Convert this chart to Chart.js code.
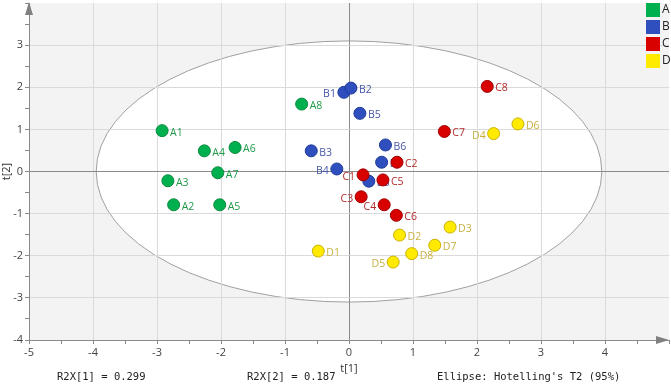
<!DOCTYPE html>
<html>
<head>
<meta charset="utf-8">
<script src="https://cdn.jsdelivr.net/npm/chart.js@4.4.1/dist/chart.umd.min.js"></script>
<style>
  html, body { margin: 0; padding: 0; background: #fff; }
  #wrap { width: 671px; height: 385px; }
</style>
</head>
<body>
<div id="wrap"><canvas id="chart"></canvas></div>
<script>
// --- data ---
const groups = ["A", "B", "C", "D"];

const namesA = ["A1", "A2", "A3", "A4", "A5", "A6", "A7", "A8"];
const xA = [-2.92, -2.74, -2.83, -2.26, -2.02, -1.78, -2.05, -0.74];
const yA = [0.97, -0.79, -0.22, 0.49, -0.79, 0.57, -0.03, 1.60];

const namesB = ["B1", "B2", "B3", "B4", "B5", "B6", "B7", "B8"];
const xB = [-0.08, 0.03, -0.59, -0.19, 0.17, 0.57, 0.51, 0.31];
const yB = [1.88, 1.98, 0.49, 0.06, 1.38, 0.63, 0.22, -0.23];

const namesC = ["C1", "C2", "C3", "C4", "C5", "C6", "C7", "C8"];
const xC = [0.22, 0.75, 0.19, 0.55, 0.53, 0.74, 1.49, 2.16];
const yC = [-0.08, 0.22, -0.60, -0.79, -0.20, -1.04, 0.95, 2.02];

const namesD = ["D1", "D2", "D3", "D4", "D5", "D6", "D7", "D8"];
const xD = [-0.48, 0.79, 1.58, 2.26, 0.69, 2.64, 1.34, 0.98];
const yD = [-1.89, -1.51, -1.32, 0.90, -2.15, 1.13, -1.75, -1.95];

// labels that sit left of their marker
const leftLabels = ["B1", "B4", "C1", "C3", "C4", "D4", "D5"];

// Hotelling's T2 (95%) ellipse semi-axes
const ellipseA = 3.95;
const ellipseB = 3.1;

const footTexts = ["R2X[1] = 0.299", "R2X[2] = 0.187", "Ellipse: Hotelling's T2 (95%)"];

const fill = ["#00b04f", "#2f4fbf", "#d90000", "#ffea00"];
const edge = ["#0a8a3c", "#1f3a9a", "#a00000", "#c9b200"];
const textCol = ["#1f9a48", "#4656a6", "#b32a2a", "#c9b040"];

const pts = (xs, ys, ns) => xs.map((x, i) => ({x, y: ys[i], name: ns[i]}));
const series = [pts(xA, yA, namesA), pts(xB, yB, namesB), pts(xC, yC, namesC), pts(xD, yD, namesD)];

// --- background: grey plot area with white ellipse ---
const ellipsePlugin = {
  id: "ellipse",
  beforeDraw(chart) {
    const area = chart.chartArea;
    if (!area) return;
    const {ctx, scales} = chart;
    const sx = scales.x, sy = scales.y;
    ctx.save();
    ctx.fillStyle = "#f3f3f3";
    ctx.fillRect(area.left, area.top, area.right - area.left, area.bottom - area.top);
    const cx = sx.getPixelForValue(0), cy = sy.getPixelForValue(0);
    const rx = sx.getPixelForValue(ellipseA) - cx;
    const ry = cy - sy.getPixelForValue(ellipseB);
    ctx.beginPath();
    ctx.ellipse(cx, cy, rx, ry, 0, 0, Math.PI * 2);
    ctx.fillStyle = "#ffffff";
    ctx.fill();
    ctx.strokeStyle = "#a0a0a0";
    ctx.lineWidth = 1;
    ctx.stroke();
    ctx.restore();
  }
};

// --- point names, drawn with each dataset so later groups cover them ---
const labelPlugin = {
  id: "names",
  afterDatasetDraw(chart, args) {
    const {ctx} = chart;
    const i = args.index;
    const ds = chart.data.datasets[i];
    ctx.save();
    ctx.font = "10.5px 'Open Sans'";
    ctx.fillStyle = textCol[i];
    ctx.textBaseline = "middle";
    args.meta.data.forEach((el, k) => {
      const name = ds.data[k].name;
      if (leftLabels.includes(name)) {
        ctx.textAlign = "right";
        ctx.fillText(name, el.x - 8, el.y + 2);
      } else {
        ctx.textAlign = "left";
        ctx.fillText(name, el.x + 8, el.y + 2);
      }
    });
    ctx.restore();
  }
};

// --- arrows, legend and footer texts ---
const decorPlugin = {
  id: "decor",
  afterDraw(chart) {
    const area = chart.chartArea;
    if (!area) return;
    const {ctx} = chart;
    ctx.save();
    ctx.fillStyle = "#808080";
    // y arrow
    ctx.beginPath();
    ctx.moveTo(area.left, area.top - 1);
    ctx.lineTo(area.left - 4, area.top + 12);
    ctx.lineTo(area.left + 4, area.top + 12);
    ctx.closePath();
    ctx.fill();
    // x arrow
    ctx.beginPath();
    ctx.moveTo(area.right, area.bottom);
    ctx.lineTo(area.right - 13, area.bottom - 4);
    ctx.lineTo(area.right - 13, area.bottom + 4);
    ctx.closePath();
    ctx.fill();

    // legend
    ctx.font = "12px 'Open Sans'";
    ctx.textBaseline = "middle";
    ctx.textAlign = "left";
    groups.forEach((g, i) => {
      const top = 3 + i * 17;
      ctx.fillStyle = fill[i];
      ctx.fillRect(646, top, 14, 14);
      ctx.fillStyle = "#222";
      ctx.fillText(g, 662, top + 7);
    });

    // footer
    ctx.font = "10.5px 'DejaVu Sans Mono'";
    ctx.fillStyle = "#222";
    ctx.textAlign = "left";
    const fx = [57, 247, 437];
    footTexts.forEach((t, i) => ctx.fillText(t, fx[i], 377));
    ctx.restore();
  }
};

const gridCol = (isInt, v, lim) => {
  if (!isInt) return "rgba(0,0,0,0)";
  if (v === 0) return "#8a8a8a";
  if (v === lim) return "rgba(0,0,0,0)";
  return "#dadada";
};

new Chart(document.getElementById("chart"), {
  type: "scatter",
  data: {
    datasets: series.map((d, i) => ({
      label: groups[i],
      data: d,
      backgroundColor: fill[i],
      borderColor: edge[i],
      borderWidth: 1,
      pointRadius: 6,
      pointHoverRadius: 6,
      order: 4 - i
    }))
  },
  options: {
    responsive: true,
    maintainAspectRatio: false,
    animation: false,
    layout: { autoPadding: false, padding: { left: 0, right: 2, top: 3, bottom: 10 } },
    plugins: { legend: { display: false }, tooltip: { enabled: false } },
    scales: {
      x: {
        type: "linear", min: -5, max: 5,
        afterFit: (s) => { s.height = 35; s.paddingLeft = 0; s.paddingRight = 0; },
        ticks: {
          stepSize: 0.5, autoSkip: false, maxRotation: 0, padding: 2,
          color: "#444", font: { family: "Open Sans", size: 11 },
          callback: (v) => Number.isInteger(v) && v < 5 ? String(v) : ""
        },
        grid: {
          color: (c) => gridCol(Number.isInteger(c.tick.value), c.tick.value, 5),
          tickColor: "#8a8a8a", tickLength: 4
        },
        border: { color: "#8a8a8a" },
        title: { display: true, text: "t[1]", color: "#333", padding: 0, font: { family: "Open Sans", size: 11 } }
      },
      y: {
        type: "linear", min: -4, max: 4,
        afterFit: (s) => { s.width = 29; s.paddingTop = 0; s.paddingBottom = 0; },
        ticks: {
          stepSize: 0.5, autoSkip: false, padding: 2,
          color: "#444", font: { family: "Open Sans", size: 11 },
          callback: (v) => Number.isInteger(v) && v < 4 ? String(v) : ""
        },
        grid: {
          color: (c) => gridCol(Number.isInteger(c.tick.value), c.tick.value, 4),
          tickColor: "#8a8a8a", tickLength: 4
        },
        border: { color: "#8a8a8a" },
        title: { display: true, text: "t[2]", color: "#333", padding: 0, font: { family: "Open Sans", size: 11 } }
      }
    }
  },
  plugins: [ellipsePlugin, labelPlugin, decorPlugin]
});
</script>
</body>
</html>
